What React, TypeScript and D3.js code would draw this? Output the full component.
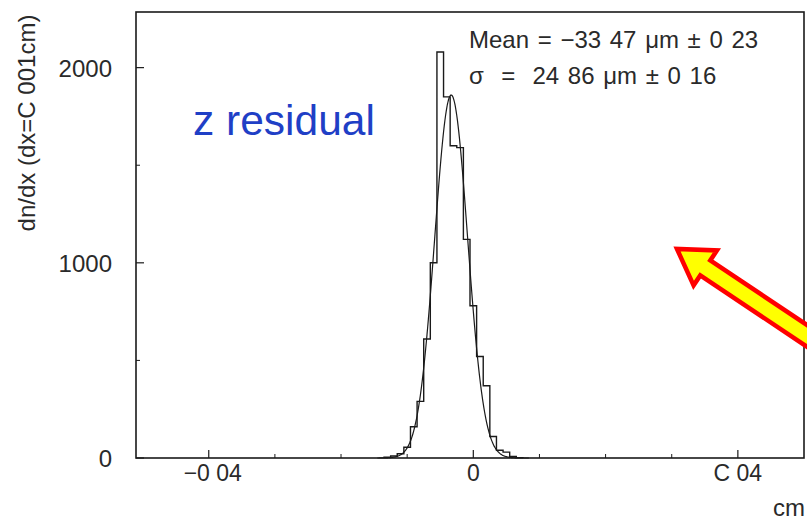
import React from "react";
import * as d3 from "d3";

const W = 807;
const H = 524;

// histogram bins (bin centers in cm, width 0.001 cm) and counts
const binCenters = [
  -0.013, -0.012, -0.011, -0.01, -0.009, -0.008, -0.007, -0.006, -0.005, -0.004,
  -0.003, -0.002, -0.001, 0.0, 0.001, 0.002, 0.003, 0.004, 0.005, 0.006, 0.007,
];
const binCounts = [
  4, 10, 22, 55, 160, 290, 610, 1000, 2080, 1850,
  1600, 1590, 1120, 780, 520, 370, 110, 40, 30, 8, 2,
];
const binWidth = 0.001;

// gaussian fit parameters (from the stats box)
const fitMean = -0.003347;
const fitSigma = 0.002486;
const fitPeak = 1860;

const xTicks = [-0.04, 0, 0.04];
const xTickLabels = ["\u22120 04", "0", "C 04"];
const xMinorTicks = [-0.03, -0.02, -0.01, 0.01, 0.02, 0.03];
const yTicks = [0, 1000, 2000];
const yTickLabels = ["0", "1000", "2000"];
const yMinorTicks = [500, 1500];

const statLines = ["Mean = \u221233 47 \u03bcm \u00b1 0 23", "\u03c3  =  24 86 \u03bcm \u00b1 0 16"];
const statSpacing = [2, 2];

export default function App() {
  const left = 136, right = 804, top = 12, bottom = 458;
  const x = d3.scaleLinear().domain([-0.051, 0.05]).range([left, right]);
  const y = d3.scaleLinear().domain([0, 2285]).range([bottom, top]);

  const stepPts: [number, number][] = [];
  stepPts.push([binCenters[0] - binWidth / 2, 0]);
  binCenters.forEach((c, i) => {
    stepPts.push([c - binWidth / 2, binCounts[i]]);
    stepPts.push([c + binWidth / 2, binCounts[i]]);
  });
  stepPts.push([binCenters[binCenters.length - 1] + binWidth / 2, 0]);
  const line = d3
    .line<[number, number]>()
    .x((d) => x(d[0]))
    .y((d) => y(d[1]));

  const fitXs = d3.range(-0.0145, 0.0085, 0.0001);
  const fitPts: [number, number][] = fitXs.map((v) => [
    v,
    fitPeak * Math.exp(-0.5 * ((v - fitMean) / fitSigma) ** 2),
  ]);
  const curve = d3
    .line<[number, number]>()
    .x((d) => x(d[0]))
    .y((d) => y(d[1]))
    .curve(d3.curveBasis);

  // arrow geometry
  const tip: [number, number] = [677, 249];
  const tail: [number, number] = [870, 378];
  const dx = tail[0] - tip[0], dy = tail[1] - tip[1];
  const L = Math.hypot(dx, dy);
  const ux = dx / L, uy = dy / L;
  const px = -uy, py = ux;
  const headLen = 34, headHalf = 21, shaftHalf = 9;
  const hb: [number, number] = [tip[0] + ux * headLen, tip[1] + uy * headLen];
  const arrowPts: [number, number][] = [
    tip,
    [hb[0] + px * headHalf, hb[1] + py * headHalf],
    [hb[0] + px * shaftHalf, hb[1] + py * shaftHalf],
    [tail[0] + px * shaftHalf, tail[1] + py * shaftHalf],
    [tail[0] - px * shaftHalf, tail[1] - py * shaftHalf],
    [hb[0] - px * shaftHalf, hb[1] - py * shaftHalf],
    [hb[0] - px * headHalf, hb[1] - py * headHalf],
  ];

  const font = "'Liberation Sans', Arial, sans-serif";
  const ink = "#1a1a1a";
  const txt = "#2a2a2a";

  return (
    <div style={{ position: "fixed", left: 0, top: 0, width: W, height: H, background: "#fff" }}>
      <svg width={W} height={H} viewBox={`0 0 ${W} ${H}`}>
        <rect x={0} y={0} width={W} height={H} fill="#fff" />
        {/* frame */}
        <rect x={left} y={top} width={right - left} height={bottom - top} fill="none" stroke={ink} strokeWidth={1.6} />
        {/* x ticks */}
        {xTicks.map((t) => (
          <line key={"xt" + t} x1={x(t)} x2={x(t)} y1={bottom} y2={bottom - 8} stroke={ink} strokeWidth={1.2} />
        ))}
        {xMinorTicks.map((t) => (
          <line key={"xm" + t} x1={x(t)} x2={x(t)} y1={bottom} y2={bottom - 4} stroke={ink} strokeWidth={1} />
        ))}
        {xTicks.map((t, i) => (
          <text key={"xl" + t} x={x(t) + (t < 0 ? 4 : 0)} y={481} fontFamily={font} fontSize={23} fill={txt} textAnchor="middle">
            {xTickLabels[i]}
          </text>
        ))}
        {/* y ticks */}
        {yTicks.map((t) => (
          <line key={"yt" + t} x1={left} x2={left + 8} y1={y(t)} y2={y(t)} stroke={ink} strokeWidth={1.2} />
        ))}
        {yMinorTicks.map((t) => (
          <line key={"ym" + t} x1={left} x2={left + 4} y1={y(t)} y2={y(t)} stroke={ink} strokeWidth={1} />
        ))}
        {yTicks.map((t, i) => (
          <text key={"yl" + t} x={112} y={y(t) + 9} fontFamily={font} fontSize={24} fill={txt} textAnchor="end">
            {yTickLabels[i]}
          </text>
        ))}
        {/* axis titles */}
        <text transform={`translate(35,123) rotate(-90)`} fontFamily={font} fontSize={24} fill={txt} textAnchor="middle">
          dn/dx (dx=C 001cm)
        </text>
        <text x={805} y={516} fontFamily={font} fontSize={24} fill={txt} textAnchor="end">
          cm
        </text>
        {/* histogram */}
        <path d={line(stepPts) || ""} fill="none" stroke={ink} strokeWidth={1.4} />
        {/* fit */}
        <path d={curve(fitPts) || ""} fill="none" stroke={ink} strokeWidth={1.2} />
        {/* stats */}
        {statLines.map((s, i) => (
          <text
            key={"s" + i}
            x={469}
            y={48 + i * 36}
            fontFamily={font}
            fontSize={24}
            fill={txt}
            wordSpacing={statSpacing[i]}
            style={{ whiteSpace: "pre" }}
          >
            {s}
          </text>
        ))}
        {/* title */}
        <text x={193} y={135} fontFamily={font} fontSize={42.5} fill="#1f3fc6">
          z residual
        </text>
        {/* arrow */}
        <polygon
          points={arrowPts.map((p) => p.join(",")).join(" ")}
          fill="#ffff00"
          stroke="#ff0000"
          strokeWidth={4.5}
          strokeLinejoin="miter"
        />
      </svg>
    </div>
  );
}
